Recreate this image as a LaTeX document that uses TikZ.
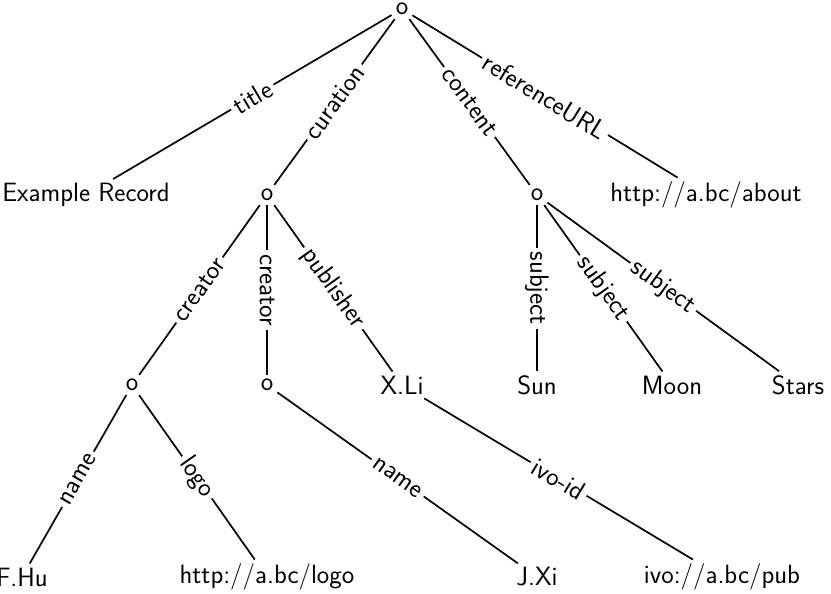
\documentclass[tikz,border=0pt]{standalone}
\usetikzlibrary{positioning}
\begin{document}
\begin{tikzpicture}[x=1pt,y=-1pt,
  every node/.style={font=\fontsize{26.5}{30}\sffamily,inner sep=4pt},
  lbl/.style={sloped,fill=white,inner sep=4pt,anchor=center},
  edge line/.style={line width=1.7pt}]
\useasboundingbox (0,0) rectangle (831,594);
% root and first level
\node (root) at (402,9) {o};
\node (rec)  at (86,195) {Example Record};
\node (cur)  at (267,195) {o};
\node (con)  at (537,195) {o};
\node (url)  at (706,195) {http://a.bc/about};
% second level
\node (cr1)  at (132,385) {o};
\node (cr2)  at (267,385) {o};
\node (pub)  at (402,385) {X.Li};
\node (sun)  at (537,385) {Sun};
\node (moon) at (672,385) {Moon};
\node (star) at (798,385) {Stars};
% third level
\node (fhu)  at (22,577) {F.Hu};
\node (logo) at (267,577) {http://a.bc/logo};
\node (jxi)  at (537,577) {J.Xi};
\node (ivo)  at (722,577) {ivo://a.bc/pub};
\path[edge line]
  (root) edge node[lbl] {title} (rec)
  (root) edge node[lbl] {curation} (cur)
  (root) edge node[lbl] {content} (con)
  (root) edge node[lbl] {referenceURL} (url)
  (cur)  edge node[lbl] {creator} (cr1)
  (cur)  edge node[lbl] {creator} (cr2)
  (cur)  edge node[lbl] {publisher} (pub)
  (con)  edge node[lbl] {subject} (sun)
  (con)  edge node[lbl] {subject} (moon)
  (con)  edge node[lbl] {subject} (star)
  (cr1)  edge node[lbl] {name} (fhu)
  (cr1)  edge node[lbl] {logo} (logo)
  (cr2)  edge node[lbl] {name} (jxi)
  (pub)  edge node[lbl] {ivo-id} (ivo);
\end{tikzpicture}
\end{document}
